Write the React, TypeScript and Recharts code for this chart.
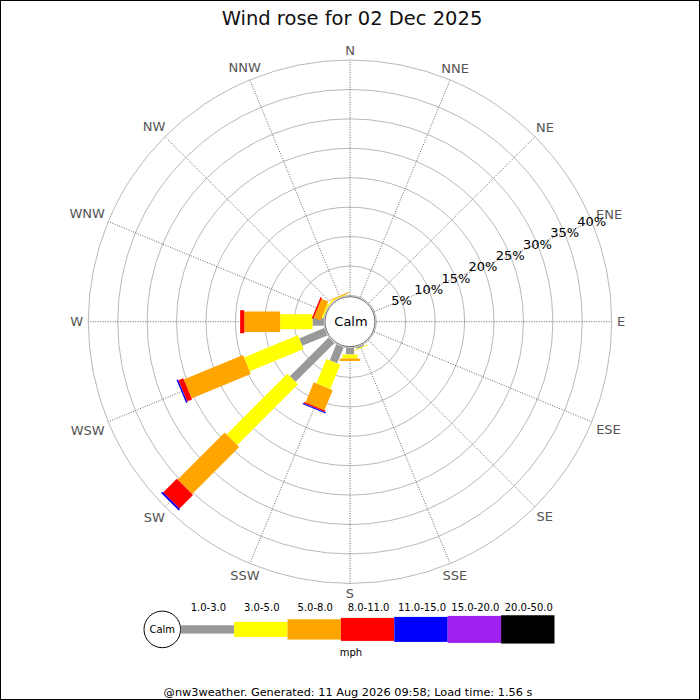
import React from 'react';
import {
  RadialBarChart,
  RadialBar,
  PolarGrid,
  PolarAngleAxis,
  PolarRadiusAxis,
} from 'recharts';

// ---------- data ----------
const directions = ['N', 'NNE', 'NE', 'ENE', 'E', 'ESE', 'SE', 'SSE', 'S', 'SSW', 'SW', 'WSW', 'W', 'WNW', 'NW', 'NNW'];
const speedBins = ['1.0-3.0', '3.0-5.0', '5.0-8.0', '8.0-11.0', '11.0-15.0', '15.0-20.0', '20.0-50.0'];
//                  N  NNE NE ENE E ESE SE  SSE   S    SSW  SW    WSW   W    WNW   NW   NNW
const pct1to3 =   [0, 0, 0, 0, 0, 0, 0, 0.25, 1.1, 2.9, 9.3, 4.6, 1.9, 0, 0, 0];
const pct3to5 =   [0, 0, 0, 0, 0, 0, 0, 0.15, 0.7, 4.5, 14.6, 9.9, 5.5, 0.25, 0.2, 0.1];
const pct5to8 =   [0, 0, 0, 0, 0, 0, 0, 0, 0.4, 3.7, 11.3, 10.9, 6.1, 1.25, 0, 0.15];
const pct8to11 =  [0, 0, 0, 0, 0, 0, 0, 0, 0, 0.25, 3.3, 0.9, 0.7, 0.25, 0, 0];
const pct11to15 = [0, 0, 0, 0, 0, 0, 0, 0, 0, 0.2, 0.3, 0.25, 0, 0, 0, 0];
const pct15to20 = [0, 0, 0, 0, 0, 0, 0, 0, 0, 0, 0, 0, 0, 0, 0, 0];
const pct20to50 = [0, 0, 0, 0, 0, 0, 0, 0, 0, 0, 0, 0, 0, 0, 0, 0];
const percentTicks = [0, 5, 10, 15, 20, 25, 30, 35, 40];
const titleText = 'Wind rose for 02 Dec 2025';
const unitText = 'mph';
const footerText = '@nw3weather. Generated: 11 Aug 2026 09:58; Load time: 1.56 s';

const seriesValues = [pct1to3, pct3to5, pct5to8, pct8to11, pct11to15, pct15to20, pct20to50];
const seriesKeys = ['b1', 'b2', 'b3', 'b4', 'b5', 'b6', 'b7'];
const data = directions.map((dir, i) => {
  const row: any = { dir };
  seriesKeys.forEach((k, j) => (row[k] = seriesValues[j][i]));
  return row;
});

// ---------- styles ----------
const FONT = '"DejaVu Sans", Verdana, sans-serif';
const colors = ['#999999', '#ffff00', '#ffa500', '#ff0000', '#0000ff', '#a020f0', '#000000'];
const barWidths = [8, 15, 20.5, 23, 25, 27, 28.5];
const CX = 350;
const CY = 321.7;
const INNER = 26.3;
const OUTER = 261.7;
const LABEL_R = 267;
const SECTOR = 360 / directions.length;
const START = 90 - SECTOR / 2;
const gridAngles = directions.map((_, i) => 90 - i * SECTOR);

const charW: Record<string, number> = { N: 0.748, E: 0.632, S: 0.635, W: 0.989 };
const textWidth = (s: string, fs: number) =>
  s.split('').reduce((acc, c) => acc + (charW[c] ?? 0.65), 0) * fs;

const makeShape = (width: number, color: string) => (props: any) => {
  const { cx, cy, innerRadius, outerRadius, startAngle, endAngle } = props;
  if (outerRadius - innerRadius < 0.01) return <g />;
  const mid = ((startAngle + endAngle) / 2) * (Math.PI / 180);
  const ux = Math.cos(mid);
  const uy = -Math.sin(mid);
  const nx = Math.sin(mid);
  const ny = Math.cos(mid);
  const h = width / 2;
  const p = [
    [cx + ux * innerRadius + nx * h, cy + uy * innerRadius + ny * h],
    [cx + ux * outerRadius + nx * h, cy + uy * outerRadius + ny * h],
    [cx + ux * outerRadius - nx * h, cy + uy * outerRadius - ny * h],
    [cx + ux * innerRadius - nx * h, cy + uy * innerRadius - ny * h],
  ];
  return <polygon points={p.map((q) => q.join(',')).join(' ')} fill={color} stroke="none" />;
};

const AngleTick = (props: any) => {
  const { payload } = props;
  const label = String(payload.value);
  const a = ((payload.coordinate + SECTOR / 2) * Math.PI) / 180;
  const fs = 13;
  const w = textWidth(label, fs);
  const hh = 9.5;
  const r = LABEL_R + (w / 2) * Math.pow(Math.abs(Math.cos(a)), 1.5) + (hh / 2) * Math.abs(Math.sin(a));
  const x = CX + r * Math.cos(a);
  const y = CY - r * Math.sin(a);
  return (
    <text x={x} y={y + 0.365 * fs} textAnchor="middle" fontSize={fs} fill="#555" fontFamily={FONT}>
      {label}
    </text>
  );
};

const RadiusTick = (props: any) => {
  const { x, y, payload } = props;
  if (payload.value === 0) return <g />;
  return (
    <text x={x} y={y + 0.36 * 13} textAnchor="middle" fontSize={13} fill="#000" fontFamily={FONT}>
      {`${payload.value}%`}
    </text>
  );
};

const legendX0 = 180.7;
const legendW = 53.4;
const legendCY = 629.4;
const legendH = [8.3, 15, 20.3, 23, 25, 27, 28.3];

export default function App() {
  return (
    <div style={{ position: 'absolute', left: 0, top: 0, width: 700, height: 700, background: '#fff' }}>
      <div style={{ position: 'absolute', left: 0, top: 0 }}>
        <RadialBarChart
          width={700}
          height={700}
          data={data}
          layout="centric"
          cx={CX}
          cy={CY}
          innerRadius={INNER}
          outerRadius={OUTER}
          startAngle={START}
          endAngle={START - 360}
          margin={{ top: 0, right: 0, bottom: 0, left: 0 }}
        >
          <PolarGrid gridType="circle" radialLines={false} stroke="#b8b8b8" strokeWidth={1} />
          <PolarGrid
            gridType="circle"
            polarRadius={[]}
            polarAngles={gridAngles}
            stroke="#555"
            strokeWidth={0.9}
            strokeDasharray="1 1.5"
          />
          <PolarAngleAxis dataKey="dir" type="category" tick={<AngleTick />} tickLine={false} axisLine={false} />
          <PolarRadiusAxis
            type="number"
            domain={[0, 40]}
            ticks={percentTicks}
            angle={22.5}
            axisLine={false}
            tickLine={false}
            tick={<RadiusTick />}
          />
          {seriesKeys.map((k, i) => (
            <RadialBar
              key={k}
              dataKey={k}
              stackId="a"
              fill={colors[i]}
              isAnimationActive={false}
              shape={makeShape(barWidths[i], colors[i])}
            />
          ))}
        </RadialBarChart>
      </div>
      <svg
        width={700}
        height={700}
        style={{ position: 'absolute', left: 0, top: 0, pointerEvents: 'none' }}
      >
        <rect x={0.5} y={0.5} width={699} height={699} fill="none" stroke="#000" strokeWidth={1} />
        <text x={352} y={25} textAnchor="middle" fontSize={19.5} fill="#111" fontFamily={FONT}>
          {titleText}
        </text>
        <circle cx={CX} cy={CY} r={25} fill="#fff" stroke="#666" strokeWidth={1} />
        <text x={CX + 1} y={CY + 4.7} textAnchor="middle" fontSize={13} fill="#000" fontFamily={FONT}>
          Calm
        </text>
        {/* legend */}
        <circle cx={162.3} cy={legendCY} r={18.3} fill="#fff" stroke="#000" strokeWidth={1} />
        <text x={162.3} y={legendCY + 3.6} textAnchor="middle" fontSize={10} fill="#000" fontFamily={FONT}>
          Calm
        </text>
        {speedBins.map((b, i) => (
          <g key={b}>
            <rect
              x={legendX0 + i * legendW}
              y={legendCY - legendH[i] / 2}
              width={legendW}
              height={legendH[i]}
              fill={colors[i]}
            />
            <text
              x={legendX0 + i * legendW + legendW / 2 + 1}
              y={610.5}
              textAnchor="middle"
              fontSize={10}
              fill="#000"
              fontFamily={FONT}
            >
              {b}
            </text>
          </g>
        ))}
        <text x={351} y={655.5} textAnchor="middle" fontSize={10} fill="#000" fontFamily={FONT}>
          {unitText}
        </text>
        <text x={348} y={696} textAnchor="middle" fontSize={11.3} fill="#000" fontFamily={FONT}>
          {footerText}
        </text>
      </svg>
    </div>
  );
}
